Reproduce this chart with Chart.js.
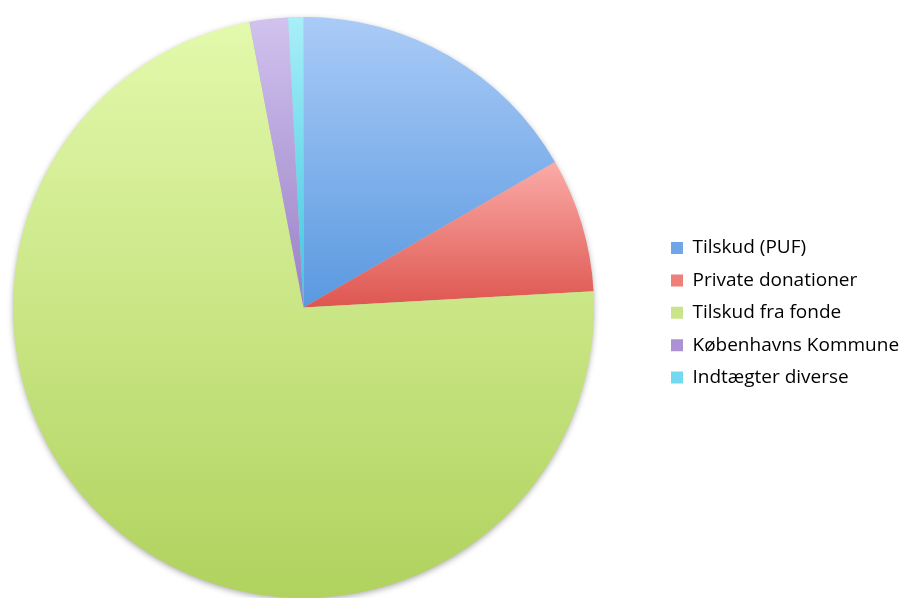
<!DOCTYPE html>
<html>
<head>
<meta charset="utf-8">
<script src="https://cdn.jsdelivr.net/npm/chart.js@4/dist/chart.umd.min.js"></script>
<style>
  html, body { margin: 0; padding: 0; background: #ffffff; }
  #wrap { width: 903px; height: 598px; position: relative; }
</style>
</head>
<body>
<div id="wrap"><canvas id="c" width="903" height="598"></canvas></div>
<script>
const categories = ["Tilskud (PUF)", "Private donationer", "Tilskud fra fonde", "Københavns Kommune", "Indtægter diverse"];
const values = [16.65, 7.45, 72.9, 2.13, 0.85];
const topColors = ["#aacbf7", "#fbaba7", "#e3f9ac", "#d1c2ee", "#a8eff9"];
const bottomColors = ["#5a99e0", "#de5650", "#b0d25e", "#9a80c6", "#3cc5de"];
const legendColors = ["#70a5e7", "#ee7f79", "#c9e48a", "#ab93d3", "#72d9ee"];

function sliceGradient(ctx) {
  const chart = ctx.chart;
  const area = chart.chartArea;
  const i = ctx.dataIndex;
  if (!area || i === undefined) return bottomColors[i || 0];
  const cx = (area.left + area.right) / 2;
  const cy = (area.top + area.bottom) / 2;
  const r = Math.min(area.right - area.left, area.bottom - area.top) / 2;
  const total = values.reduce((a, b) => a + b, 0);
  let acc = 0;
  for (let j = 0; j < i; j++) acc += values[j];
  const a0 = -Math.PI / 2 + 2 * Math.PI * acc / total;
  const a1 = a0 + 2 * Math.PI * values[i] / total;
  const ys = [cy, cy + r * Math.sin(a0), cy + r * Math.sin(a1)];
  [-Math.PI / 2, Math.PI / 2, 3 * Math.PI / 2].forEach(k => {
    if (k >= a0 && k <= a1) ys.push(cy + r * Math.sin(k));
  });
  const y0 = Math.min(...ys), y1 = Math.max(...ys);
  const g = chart.ctx.createLinearGradient(0, y0, 0, y1 + 0.001);
  g.addColorStop(0, topColors[i]);
  g.addColorStop(1, bottomColors[i]);
  return g;
}

const placePlugin = {
  id: 'place',
  afterLayout(chart) {
    const a = chart.chartArea;
    a.left = 12.5; a.right = 594.5; a.top = 17; a.bottom = 598;
    a.width = a.right - a.left; a.height = a.bottom - a.top;
    const lg = chart.legend;
    if (lg) {
      lg.left = 657.6; lg.right = 903;
      lg.top = 225.1; lg.bottom = 598;
      lg.width = lg.right - lg.left; lg.height = lg.bottom - lg.top;
    }
  },
  beforeDatasetsDraw(chart) {
    const a = chart.chartArea;
    const ctx = chart.ctx;
    const cx = (a.left + a.right) / 2, cy = (a.top + a.bottom) / 2;
    const r = Math.min(a.width, a.height) / 2;
    ctx.save();
    ctx.shadowColor = 'rgba(0,0,0,0.35)';
    ctx.shadowBlur = 6;
    ctx.shadowOffsetX = 0;
    ctx.shadowOffsetY = 2;
    ctx.beginPath();
    ctx.arc(cx, cy, r - 0.5, 0, Math.PI * 2);
    ctx.fillStyle = '#c0c0c0';
    ctx.fill();
    ctx.restore();
  }
};

new Chart(document.getElementById('c'), {
  type: 'pie',
  data: {
    labels: categories,
    datasets: [{
      data: values,
      backgroundColor: sliceGradient,
      borderWidth: 0
    }]
  },
  options: {
    responsive: false,
    animation: false,
    devicePixelRatio: 1,
    layout: { padding: { left: 12, top: 17, right: 0, bottom: 0 } },
    plugins: {
      tooltip: { enabled: false },
      legend: {
        display: true,
        position: 'right',
        align: 'start',
        labels: {
          boxWidth: 12,
          boxHeight: 12,
          padding: 13.4,
          color: '#000000',
          font: { family: 'Open Sans', size: 19, lineHeight: 1.2 },
          generateLabels(chart) {
            const items = Chart.overrides.pie.plugins.legend.labels.generateLabels(chart);
            items.forEach((it, i) => {
              it.fillStyle = legendColors[i];
              it.strokeStyle = legendColors[i];
              it.lineWidth = 0;
            });
            return items;
          }
        }
      }
    }
  },
  plugins: [placePlugin]
});
</script>
</body>
</html>
